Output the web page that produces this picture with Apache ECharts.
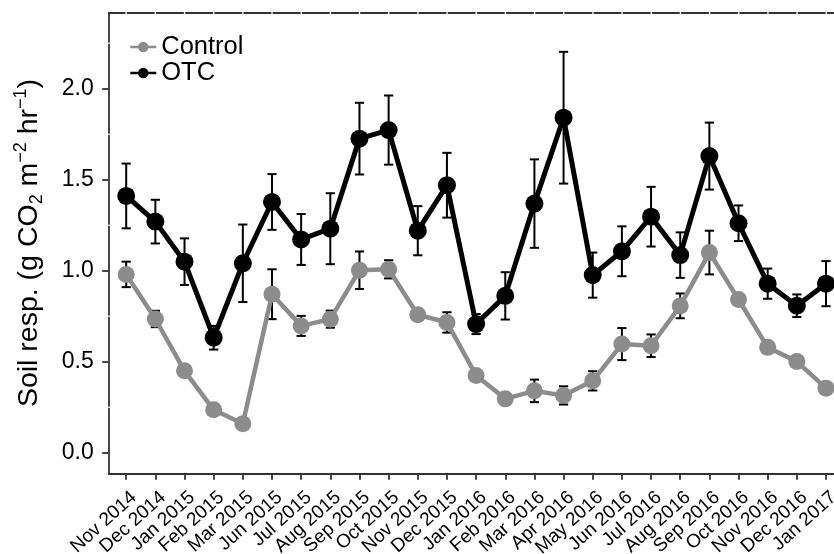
<!DOCTYPE html>
<html>
<head>
<meta charset="utf-8">
<script src="https://cdn.jsdelivr.net/npm/echarts@6/dist/echarts.min.js"></script>
<style>
html,body{margin:0;padding:0;background:#fff;}
#chart{width:834px;height:554px;}
</style>
</head>
<body>
<div id="chart"></div>
<script>
const categories = ['Nov 2014','Dec 2014','Jan 2015','Feb 2015','Mar 2015','Jun 2015','Jul 2015','Aug 2015','Sep 2015','Oct 2015','Nov 2015','Dec 2015','Jan 2016','Feb 2016','Mar 2016','Apr 2016','May 2016','Jun 2016','Jul 2016','Aug 2016','Sep 2016','Oct 2016','Nov 2016','Dec 2016','Jan 2017'];
const controlMean = [0.98,0.735,0.45,0.236,0.159,0.871,0.697,0.734,1.003,1.008,0.758,0.716,0.425,0.296,0.340,0.315,0.395,0.597,0.588,0.807,1.100,0.842,0.579,0.501,0.355];
const controlErr  = [0.07,0.045,0.02,0.02,0.02,0.137,0.055,0.047,0.103,0.05,0.03,0.056,0.02,0.02,0.062,0.05,0.053,0.088,0.062,0.068,0.12,0.02,0.02,0.02,0.02];
const otcMean = [1.411,1.270,1.050,0.632,1.041,1.378,1.172,1.231,1.726,1.773,1.220,1.470,0.707,0.862,1.369,1.841,0.976,1.107,1.297,1.086,1.630,1.261,0.929,0.808,0.929];
const otcErr  = [0.178,0.120,0.128,0.065,0.213,0.153,0.140,0.195,0.197,0.190,0.135,0.178,0.055,0.130,0.243,0.362,0.124,0.137,0.164,0.125,0.184,0.098,0.083,0.062,0.124];
const yTicks = [0, 0.5, 1.0, 1.5, 2.0];
const yTickLabels = ['0.0','0.5','1.0','1.5','2.0'];

const xPos = categories.map((c, i) => i + 1);
const FONT = '"Liberation Sans", Arial, Helvetica, sans-serif';
const AXIS_COLOR = '#333';

function renderErr(params, api) {
  const x = api.value(0);
  const p1 = api.coord([x, api.value(1)]);
  const p2 = api.coord([x, api.value(2)]);
  const hw = 4.6;
  const st = { stroke: '#000', lineWidth: 2 };
  return {
    type: 'group',
    children: [
      { type: 'line', shape: { x1: p1[0], y1: p1[1], x2: p2[0], y2: p2[1] }, style: st },
      { type: 'line', shape: { x1: p1[0] - hw, y1: p1[1], x2: p1[0] + hw, y2: p1[1] }, style: st },
      { type: 'line', shape: { x1: p2[0] - hw, y1: p2[1], x2: p2[0] + hw, y2: p2[1] }, style: st }
    ]
  };
}

const chart = echarts.init(document.getElementById('chart'), null, { renderer: 'canvas' });
chart.setOption({
  animation: false,
  backgroundColor: '#fff',
  textStyle: { fontFamily: FONT },
  grid: { left: 108.7, right: -9.5, top: 12.7, bottom: 80.7, containLabel: false, outerBoundsMode: 'none' },
  legend: {
    data: ['Control', 'OTC'],
    orient: 'vertical',
    left: 129,
    top: 34,
    padding: 0,
    itemGap: 0,
    itemWidth: 26,
    itemHeight: 13,
    lineStyle: { width: 2.5 },
    textStyle: { fontFamily: FONT, fontSize: 25.5, color: '#000', lineHeight: 24 }
  },
  xAxis: [{
    type: 'value',
    min: 0.4,
    max: 25.6,
    splitLine: { show: false },
    axisLine: { show: true, onZero: false, lineStyle: { color: AXIS_COLOR, width: 1.8 } },
    axisTick: { show: true, length: 6.5, customValues: xPos, lineStyle: { color: AXIS_COLOR, width: 1.8 } },
    axisLabel: {
      customValues: xPos,
      rotate: 42,
      margin: 13,
      verticalAlign: 'top',
      padding: [2, 0, 0, 0],
      fontSize: 19,
      fontFamily: FONT,
      color: '#000',
      formatter: v => categories[Math.round(v) - 1] || ''
    }
  }, {
    type: 'value',
    position: 'top',
    min: 0.4,
    max: 25.6,
    splitLine: { show: false },
    axisTick: { show: false },
    axisLabel: { show: false },
    axisLine: { show: true, onZero: false, lineStyle: { color: AXIS_COLOR, width: 1.8, type: [26.5, 2.67], dashOffset: 10.33 } }
  }],
  yAxis: {
    type: 'value',
    min: -0.113,
    max: 2.418,
    splitLine: { show: false },
    axisLine: { show: true, onZero: false, lineStyle: { color: AXIS_COLOR, width: 1.8, type: [88.5, 2.5], dashOffset: 23.6 } },
    axisTick: { show: true, length: 6.5, customValues: yTicks, lineStyle: { color: AXIS_COLOR, width: 1.8 } },
    axisLabel: {
      customValues: yTicks,
      margin: 15,
      fontSize: 23,
      fontFamily: FONT,
      color: '#000',
      formatter: v => { const i = yTicks.findIndex(t => Math.abs(t - v) < 1e-6); return i >= 0 ? yTickLabels[i] : ''; }
    },
    name: 'Soil resp. (g CO{sub|2} m{sup|\u22122} hr{sup|\u22121})',
    nameLocation: 'middle',
    nameGap: 63,
    nameTextStyle: {
      fontFamily: FONT,
      fontSize: 28.5,
      color: '#000',
      lineHeight: 34,
      rich: {
        sub: { fontFamily: FONT, fontSize: 18, color: '#000', verticalAlign: 'bottom', lineHeight: 18 },
        sup: { fontFamily: FONT, fontSize: 18, color: '#000', verticalAlign: 'top', lineHeight: 18 }
      }
    }
  },
  series: [
    {
      name: 'ControlErr',
      type: 'custom',
      renderItem: renderErr,
      encode: { x: 0, y: [1, 2] },
      data: controlMean.map((m, i) => [xPos[i], m - controlErr[i], m + controlErr[i]]),
      z: 1,
      silent: true
    },
    {
      name: 'OTCErr',
      type: 'custom',
      renderItem: renderErr,
      encode: { x: 0, y: [1, 2] },
      data: otcMean.map((m, i) => [xPos[i], m - otcErr[i], m + otcErr[i]]),
      z: 1,
      silent: true
    },
    {
      name: 'Control',
      type: 'line',
      data: controlMean.map((m, i) => [xPos[i], m]),
      color: '#8c8c8c',
      lineStyle: { color: '#8c8c8c', width: 4.5 },
      itemStyle: { color: '#8c8c8c' },
      symbol: 'circle',
      symbolSize: 17,
      showAllSymbol: true,
      z: 2
    },
    {
      name: 'OTC',
      type: 'line',
      data: otcMean.map((m, i) => [xPos[i], m]),
      color: '#000',
      lineStyle: { color: '#000', width: 5 },
      itemStyle: { color: '#000' },
      symbol: 'circle',
      symbolSize: 18,
      showAllSymbol: true,
      z: 3
    }
  ]
});
</script>
</body>
</html>
